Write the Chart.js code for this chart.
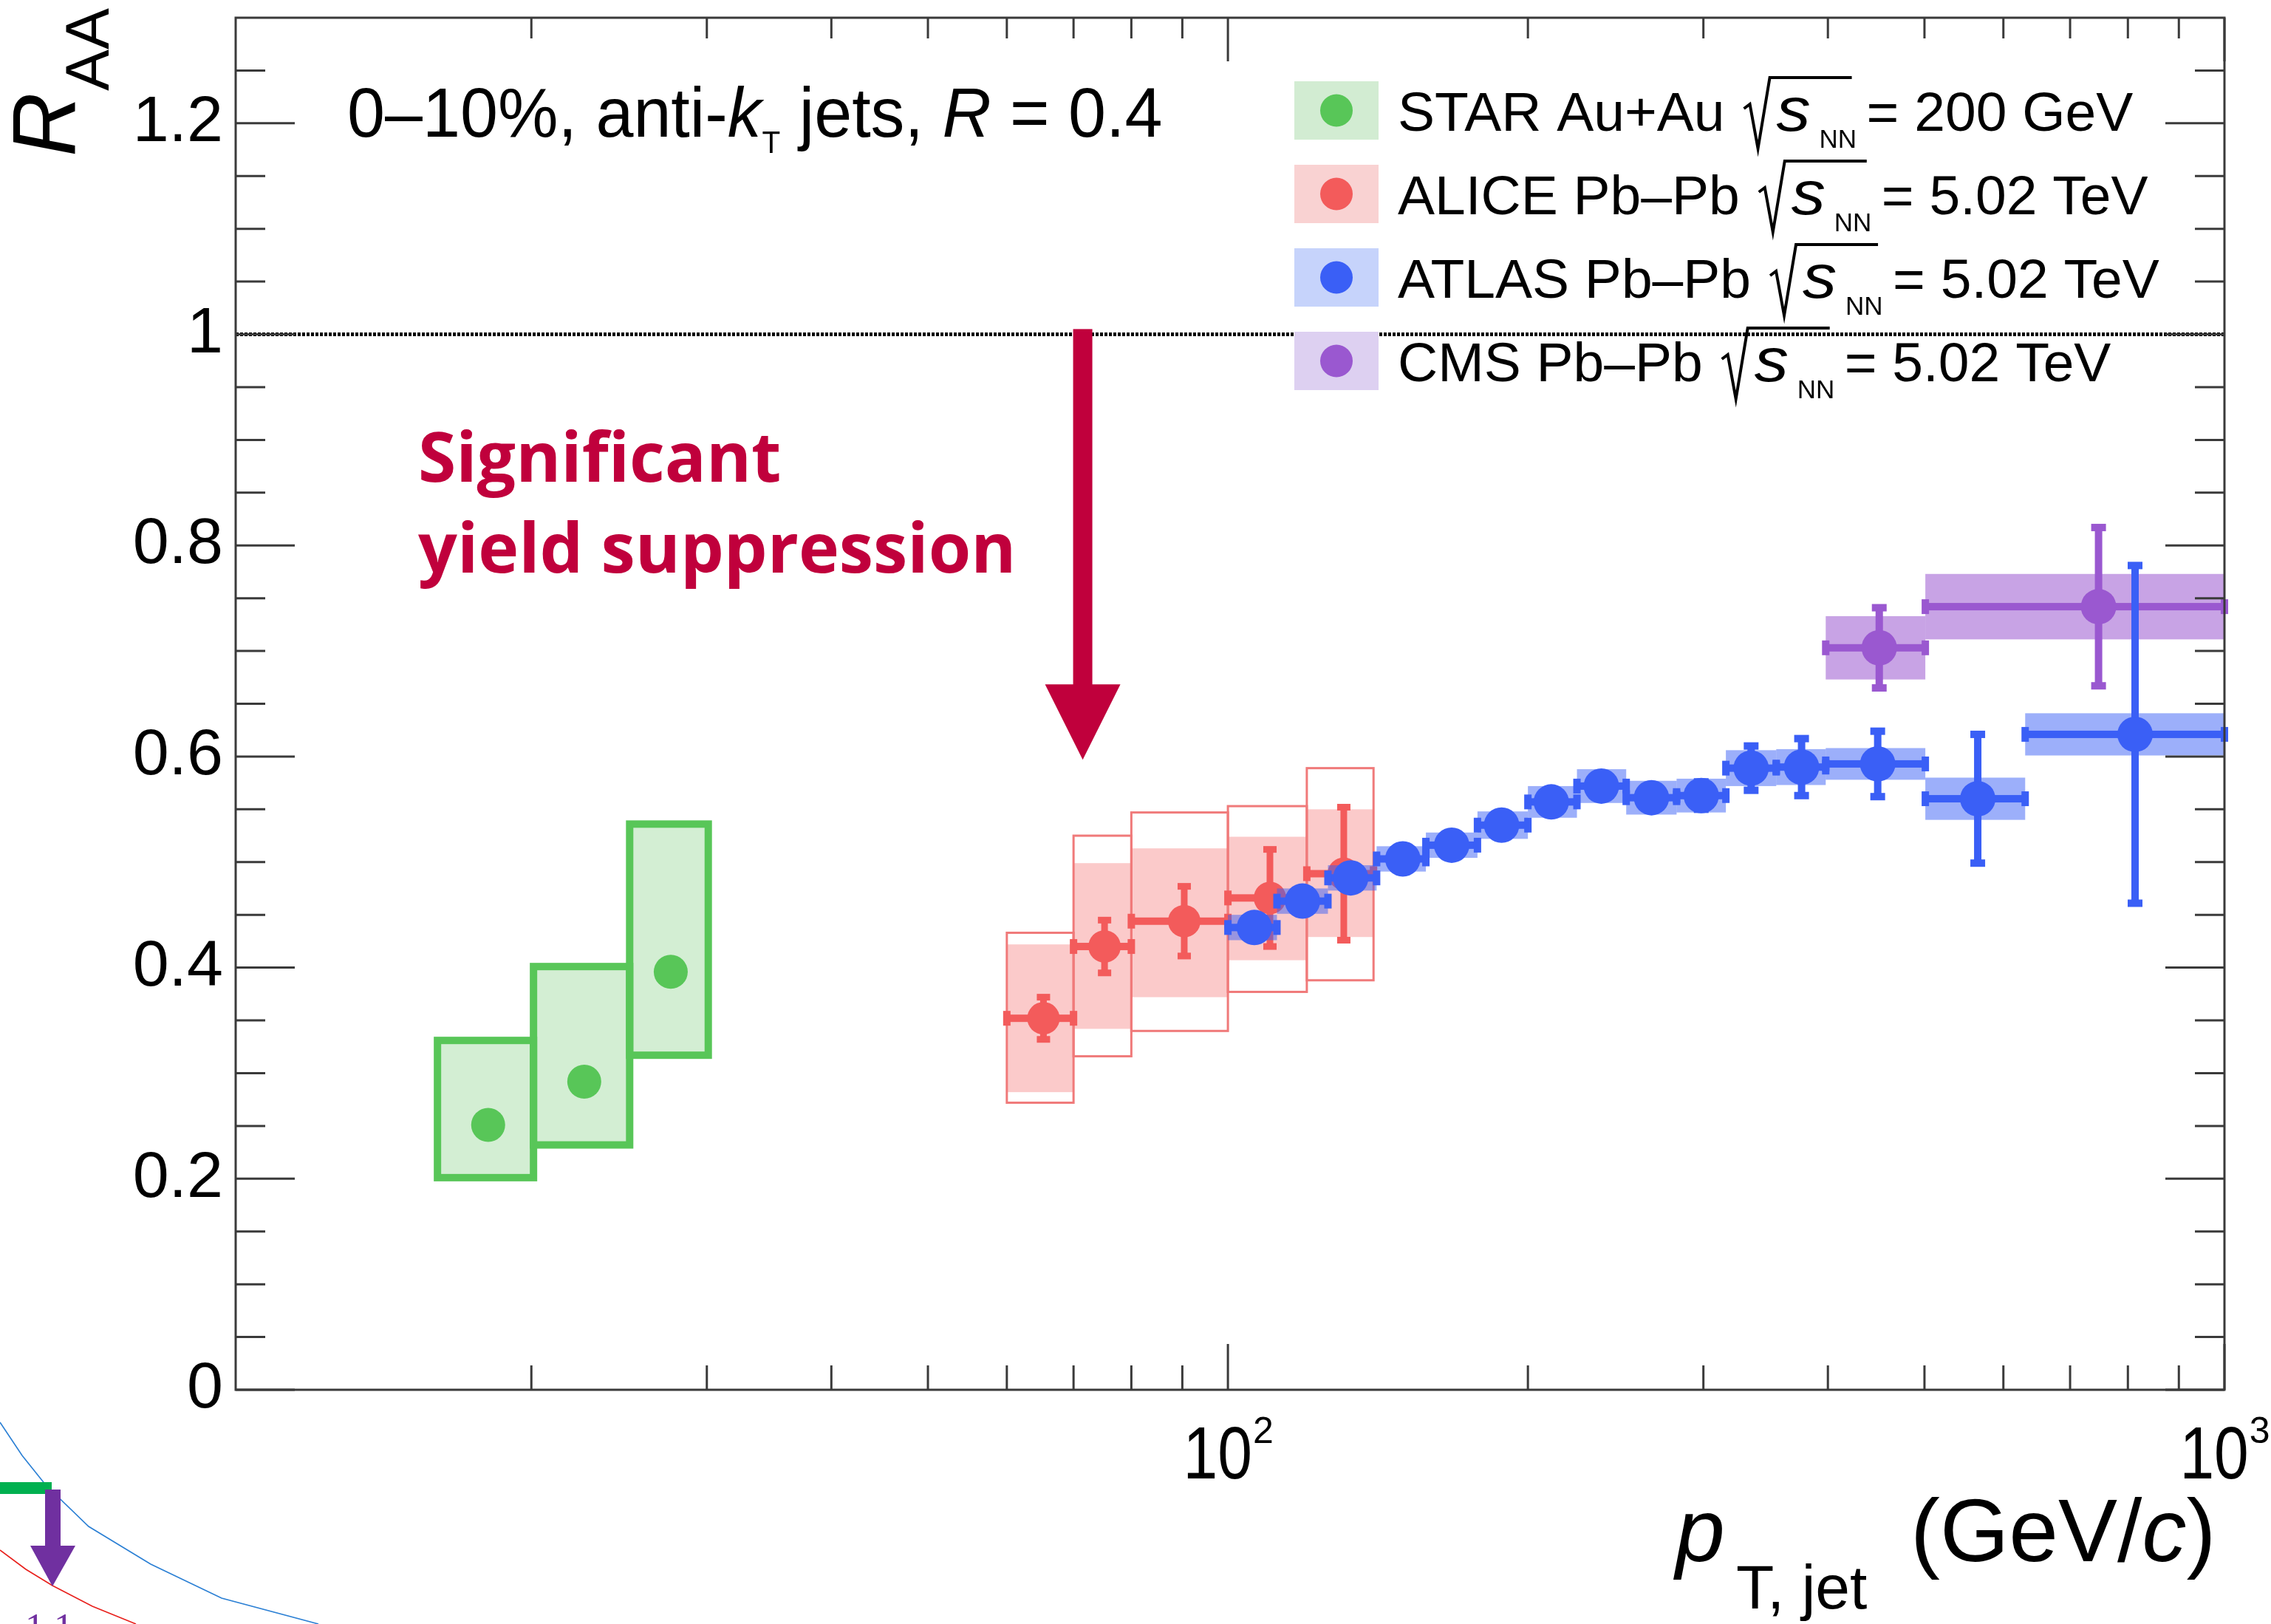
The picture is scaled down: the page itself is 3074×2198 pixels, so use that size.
<!DOCTYPE html>
<html>
<head>
<meta charset="utf-8">
<title>Jet suppression: R_AA vs jet pT</title>
<script src="https://cdn.jsdelivr.net/npm/chart.js@4/dist/chart.umd.min.js"></script>
<style>
  html, body { margin: 0; padding: 0; background: #fff; }
  #wrap { width: 3074px; height: 2198px; }
</style>
</head>
<body>
<div id="wrap"><canvas id="c" width="3074" height="2198"></canvas></div>
<script>
// ---------- data ----------
// STAR Au+Au 200 GeV
const starPt    = [18.1, 22.6, 27.6];
const starRaa   = [0.251, 0.292, 0.396];
const starBinLo = [16.1, 20.1, 25.1];
const starBinHi = [20.1, 25.1, 30.1];
const starSysLo = [0.201, 0.232, 0.317];
const starSysHi = [0.331, 0.401, 0.536];

// ALICE Pb-Pb 5.02 TeV
const alicePt      = [65.3, 75.2, 90.4, 110.2, 130.7];
const aliceRaa     = [0.352, 0.420, 0.444, 0.466, 0.489];
const aliceBinLo   = [60, 70, 80, 100, 120];
const aliceBinHi   = [70, 80, 100, 120, 140];
const aliceStat    = [0.020, 0.025, 0.033, 0.046, 0.063];
const aliceShapeLo = [0.282, 0.342, 0.372, 0.407, 0.429];
const aliceShapeHi = [0.422, 0.499, 0.513, 0.524, 0.550];
const aliceCorrLo  = [0.272, 0.316, 0.340, 0.377, 0.388];
const aliceCorrHi  = [0.433, 0.525, 0.547, 0.553, 0.589];

// ATLAS Pb-Pb 5.02 TeV
const atlasPt    = [106.3, 118.8, 132.8, 149.8, 167.7, 188.2, 211.1, 237.0, 266.1, 298.5, 335, 376.4, 448.8, 565.5, 813.4];
const atlasRaa   = [0.438, 0.463, 0.485, 0.503, 0.516, 0.535, 0.557, 0.572, 0.561, 0.563, 0.589, 0.590, 0.593, 0.560, 0.621];
const atlasBinLo = [100, 112, 126, 141, 158, 178, 200, 224, 251, 282, 316, 355, 398, 501, 631];
const atlasBinHi = [112, 126, 141, 158, 178, 200, 224, 251, 282, 316, 355, 398, 501, 631, 1000];
const atlasStat  = [0.008, 0.008, 0.008, 0.008, 0.008, 0.009, 0.009, 0.010, 0.011, 0.013, 0.021, 0.027, 0.031, 0.061, 0.160];
const atlasSys   = [0.012, 0.012, 0.012, 0.012, 0.012, 0.013, 0.015, 0.016, 0.016, 0.016, 0.017, 0.017, 0.015, 0.020, 0.020];

// CMS Pb-Pb 5.02 TeV
const cmsPt    = [450.4, 747.6];
const cmsRaa   = [0.703, 0.742];
const cmsBinLo = [398, 501];
const cmsBinHi = [501, 1000];
const cmsStat  = [0.038, 0.075];
const cmsSys   = [0.030, 0.031];

// axis ticks
const yMajorTicks = [0, 0.2, 0.4, 0.6, 0.8, 1.0, 1.2];
const yTickLabels = ['0', '0.2', '0.4', '0.6', '0.8', '1', '1.2'];
const yMinorTicks = [0.05, 0.1, 0.15, 0.25, 0.3, 0.35, 0.45, 0.5, 0.55, 0.65, 0.7, 0.75,
                     0.85, 0.9, 0.95, 1.05, 1.1, 1.15, 1.25];
const xMajorTicks = [100, 1000];
const xTickBase = ['10', '10'];
const xTickExp  = ['2', '3'];
const xMinorTicks = [20, 30, 40, 50, 60, 70, 80, 90, 200, 300, 400, 500, 600, 700, 800, 900];

// annotation arrow (pT position, RAA from -> to)
const arrowPt = 71.5, arrowFrom = 1.005, arrowTo = 0.597;

// ---------- styles ----------
const HELV = '"Liberation Sans", Arial, Helvetica, sans-serif';
const NOTE_FONT = 'bold 93px "Open Sans", "Noto Sans", sans-serif';
const C_STAR = '#58c658', C_STAR_BOX = '#d3eed3';
const C_ALICE = '#f35b5b', C_ALICE_SHAPE = 'rgba(243,91,91,0.32)', C_ALICE_CORR = '#f07a7a';
const C_ATLAS = '#3a5ff6', C_ATLAS_SYS = 'rgba(58,95,246,0.5)';
const C_CMS = '#9a58d0', C_CMS_SYS = 'rgba(154,88,208,0.55)';
const C_NOTE = '#c0003c';

Chart.defaults.font.family = HELV;

// ---------- helpers ----------
function hErr(ctx, X, Y, x0, x1, y, color, lw) {
  const a = X.getPixelForValue(x0), b = X.getPixelForValue(x1), p = Y.getPixelForValue(y);
  ctx.fillStyle = color;
  ctx.fillRect(a, p - lw / 2, b - a, lw);
  ctx.fillRect(a - lw / 2, p - lw, lw, 2 * lw);
  ctx.fillRect(b - lw / 2, p - lw, lw, 2 * lw);
}
function vErr(ctx, X, Y, x, y0, y1, color, lw) {
  const p = X.getPixelForValue(x), a = Y.getPixelForValue(y0), b = Y.getPixelForValue(y1);
  ctx.fillStyle = color;
  ctx.fillRect(p - lw / 2, b, lw, a - b);
  ctx.fillRect(p - lw, a - lw / 2, 2 * lw, lw);
  ctx.fillRect(p - lw, b - lw / 2, 2 * lw, lw);
}
function rectPx(X, Y, x0, x1, y0, y1) {
  const l = X.getPixelForValue(x0), r = X.getPixelForValue(x1);
  const t = Y.getPixelForValue(y1), b = Y.getPixelForValue(y0);
  return [l, t, r - l, b - t];
}
function line(ctx, x0, y0, x1, y1) {
  ctx.beginPath(); ctx.moveTo(x0, y0); ctx.lineTo(x1, y1); ctx.stroke();
}
// draws text with optional horizontal squeeze, returns advance
function txt(ctx, s, x, y, font, color, squeeze) {
  const k = squeeze || 1;
  ctx.save();
  ctx.font = font; ctx.fillStyle = color; ctx.textBaseline = 'alphabetic'; ctx.textAlign = 'left';
  const w = ctx.measureText(s).width * k;
  ctx.translate(x, y); ctx.scale(k, 1); ctx.fillText(s, 0, 0);
  ctx.restore();
  return w;
}
function textWidth(ctx, s, font, squeeze) {
  ctx.save(); ctx.font = font; const w = ctx.measureText(s).width * (squeeze || 1); ctx.restore(); return w;
}

// ---------- uncertainty boxes and error bars, drawn under each dataset's markers ----------
const errorPlugin = {
  id: 'errors',
  beforeDatasetDraw(chart, args) {
    const ctx = chart.ctx, X = chart.scales.x, Y = chart.scales.y;
    const name = chart.data.datasets[args.index].label;
    ctx.save();
    if (name === 'STAR') {
      ctx.lineWidth = 10; ctx.strokeStyle = C_STAR; ctx.fillStyle = C_STAR_BOX;
      starPt.forEach((_, i) => {
        ctx.fillRect(...rectPx(X, Y, starBinLo[i], starBinHi[i], starSysLo[i], starSysHi[i]));
      });
      starPt.forEach((_, i) => {
        ctx.strokeRect(...rectPx(X, Y, starBinLo[i], starBinHi[i], starSysLo[i], starSysHi[i]));
      });
    } else if (name === 'ALICE') {
      ctx.fillStyle = C_ALICE_SHAPE;
      alicePt.forEach((_, i) => {
        ctx.fillRect(...rectPx(X, Y, aliceBinLo[i], aliceBinHi[i], aliceShapeLo[i], aliceShapeHi[i]));
      });
      ctx.lineWidth = 3; ctx.strokeStyle = C_ALICE_CORR;
      alicePt.forEach((_, i) => {
        ctx.strokeRect(...rectPx(X, Y, aliceBinLo[i], aliceBinHi[i], aliceCorrLo[i], aliceCorrHi[i]));
      });
      alicePt.forEach((x, i) => {
        hErr(ctx, X, Y, aliceBinLo[i], aliceBinHi[i], aliceRaa[i], C_ALICE, 10);
        vErr(ctx, X, Y, x, aliceRaa[i] - aliceStat[i], aliceRaa[i] + aliceStat[i], C_ALICE, 9);
      });
    } else if (name === 'ATLAS') {
      ctx.fillStyle = C_ATLAS_SYS;
      atlasPt.forEach((_, i) => {
        ctx.fillRect(...rectPx(X, Y, atlasBinLo[i], atlasBinHi[i], atlasRaa[i] - atlasSys[i], atlasRaa[i] + atlasSys[i]));
      });
      atlasPt.forEach((x, i) => {
        hErr(ctx, X, Y, atlasBinLo[i], atlasBinHi[i], atlasRaa[i], C_ATLAS, 10);
        vErr(ctx, X, Y, x, atlasRaa[i] - atlasStat[i], atlasRaa[i] + atlasStat[i], C_ATLAS, 10);
      });
    } else if (name === 'CMS') {
      ctx.fillStyle = C_CMS_SYS;
      cmsPt.forEach((_, i) => {
        ctx.fillRect(...rectPx(X, Y, cmsBinLo[i], cmsBinHi[i], cmsRaa[i] - cmsSys[i], cmsRaa[i] + cmsSys[i]));
      });
      cmsPt.forEach((x, i) => {
        hErr(ctx, X, Y, cmsBinLo[i], cmsBinHi[i], cmsRaa[i], C_CMS, 10);
        vErr(ctx, X, Y, x, cmsRaa[i] - cmsStat[i], cmsRaa[i] + cmsStat[i], C_CMS, 10);
      });
    }
    ctx.restore();
  }
};

// ---------- frame, ticks, texts, legend, annotation ----------
function legendRow(ctx, b, boxFill, dotColor, label, tail) {
  ctx.fillStyle = boxFill; ctx.fillRect(1752, b - 67, 114, 79);
  ctx.fillStyle = dotColor; ctx.beginPath(); ctx.arc(1809, b - 27.5, 22, 0, 2 * Math.PI); ctx.fill();
  let x = 1892;
  x += txt(ctx, label, x, b, '75px ' + HELV, '#000') + 26;
  // radical sign over s_NN
  ctx.strokeStyle = '#000'; ctx.lineWidth = 4; ctx.lineJoin = 'miter';
  ctx.beginPath();
  ctx.moveTo(x, b - 30); ctx.lineTo(x + 8, b - 36); ctx.lineTo(x + 19, b + 24);
  ctx.lineTo(x + 35, b - 72); ctx.lineTo(x + 146, b - 72);
  ctx.stroke();
  txt(ctx, 's', x + 44, b, 'italic 84px ' + HELV, '#000', 1.1);
  txt(ctx, 'NN', x + 102, b + 23, '35px ' + HELV, '#000');
  txt(ctx, tail, x + 166, b, '75px ' + HELV, '#000');
}

const decorPlugin = {
  id: 'decor',
  beforeDraw(chart) {
    const ctx = chart.ctx;
    ctx.save(); ctx.fillStyle = '#fff'; ctx.fillRect(0, 0, chart.width, chart.height); ctx.restore();
  },
  afterDraw(chart) {
    const ctx = chart.ctx, X = chart.scales.x, Y = chart.scales.y, ca = chart.chartArea;
    ctx.save();

    // reference line at R_AA = 1
    ctx.strokeStyle = '#000'; ctx.lineWidth = 5; ctx.setLineDash([4, 2]);
    line(ctx, ca.left, Y.getPixelForValue(1), ca.right, Y.getPixelForValue(1));
    ctx.setLineDash([]);

    // frame and inward ticks on all four sides
    ctx.strokeStyle = '#3a3a3a'; ctx.lineWidth = 3;
    ctx.strokeRect(ca.left, ca.top, ca.right - ca.left, ca.bottom - ca.top);
    yMajorTicks.forEach(v => {
      const p = Y.getPixelForValue(v);
      line(ctx, ca.left, p, ca.left + 80, p); line(ctx, ca.right - 80, p, ca.right, p);
    });
    yMinorTicks.forEach(v => {
      const p = Y.getPixelForValue(v);
      line(ctx, ca.left, p, ca.left + 40, p); line(ctx, ca.right - 40, p, ca.right, p);
    });
    xMajorTicks.forEach(v => {
      const p = X.getPixelForValue(v);
      line(ctx, p, ca.bottom, p, ca.bottom - 62); line(ctx, p, ca.top, p, ca.top + 59);
    });
    xMinorTicks.forEach(v => {
      const p = X.getPixelForValue(v);
      line(ctx, p, ca.bottom, p, ca.bottom - 33); line(ctx, p, ca.top, p, ca.top + 28);
    });

    // x tick labels 10^n, placed by the x scale
    {
      const fB = '100px ' + HELV, fE = '50px ' + HELV, kB = 0.84;
      xMajorTicks.forEach((v, i) => {
        const p = X.getPixelForValue(v);
        const wB = textWidth(ctx, xTickBase[i], fB, kB), wE = textWidth(ctx, xTickExp[i], fE);
        const x0 = p - (wB + wE) / 2;
        txt(ctx, xTickBase[i], x0, 2001, fB, '#000', kB);
        txt(ctx, xTickExp[i], x0 + wB + 1, 1953, fE, '#000');
      });
    }

    // header text
    {
      const k = 0.965, b = 185, f = 95;
      let x = 470;
      x += txt(ctx, '0\u201310%, anti-', x, b, f + 'px ' + HELV, '#000', k);
      x += txt(ctx, 'k', x, b, 'italic ' + f + 'px ' + HELV, '#000', k);
      x += txt(ctx, 'T', x + 1, b + 22, '42px ' + HELV, '#000', k) + 1;
      x += txt(ctx, ' jets, ', x, b, f + 'px ' + HELV, '#000', k);
      x += txt(ctx, 'R', x, b, 'italic ' + f + 'px ' + HELV, '#000', k);
      txt(ctx, ' = 0.4', x, b, f + 'px ' + HELV, '#000', k);
    }

    // legend
    legendRow(ctx, 177, '#d2ecd2', C_STAR, 'STAR Au+Au', '= 200 GeV');
    legendRow(ctx, 290, '#f9d2d2', C_ALICE, 'ALICE Pb\u2013Pb', '= 5.02 TeV');
    legendRow(ctx, 403, '#c6d3fb', C_ATLAS, 'ATLAS Pb\u2013Pb', '= 5.02 TeV');
    legendRow(ctx, 516, '#ddd0f1', C_CMS, 'CMS Pb\u2013Pb', '= 5.02 TeV');

    // y-axis title R_AA (rotated)
    ctx.save();
    ctx.translate(102, 212); ctx.rotate(-Math.PI / 2);
    txt(ctx, 'R', 0, 0, 'italic 120px ' + HELV, '#000');
    txt(ctx, 'AA', 89, 45, '84px ' + HELV, '#000');
    ctx.restore();

    // x-axis title p_T,jet (GeV/c)
    {
      let x = 2268; const b = 2113;
      txt(ctx, 'p', x, b, 'italic 120px ' + HELV, '#000');
      txt(ctx, 'T, jet', 2350, b + 64, '84px ' + HELV, '#000');
      x = 2586;
      x += txt(ctx, '(GeV/', x, b, '120px ' + HELV, '#000');
      x += txt(ctx, 'c', x, b, 'italic 120px ' + HELV, '#000');
      txt(ctx, ')', x, b, '120px ' + HELV, '#000');
    }

    // annotation: suppression arrow and label
    {
      const px = X.getPixelForValue(arrowPt);
      const y0 = Y.getPixelForValue(arrowFrom), tip = Y.getPixelForValue(arrowTo);
      const headTop = tip - 102;
      ctx.fillStyle = C_NOTE;
      ctx.fillRect(px - 13, y0, 26, headTop - y0 + 2);
      ctx.beginPath(); ctx.moveTo(px - 51, headTop); ctx.lineTo(px + 51, headTop); ctx.lineTo(px, tip); ctx.closePath(); ctx.fill();
      txt(ctx, 'Significant', 566, 652, NOTE_FONT, C_NOTE);
      txt(ctx, 'yield suppression', 566, 775, NOTE_FONT, C_NOTE);
    }

    // slide remnants in the lower-left corner
    ctx.lineWidth = 1.6; ctx.strokeStyle = '#2a7fd4';
    ctx.beginPath();
    [[0, 1925], [30, 1970], [62, 2010], [120, 2066], [204, 2117], [300, 2163], [431, 2198]]
      .forEach((p, i) => i ? ctx.lineTo(p[0], p[1]) : ctx.moveTo(p[0], p[1]));
    ctx.stroke();
    ctx.strokeStyle = '#e8201c';
    ctx.beginPath();
    [[0, 2098], [35, 2124], [71, 2146], [125, 2174], [184, 2198]]
      .forEach((p, i) => i ? ctx.lineTo(p[0], p[1]) : ctx.moveTo(p[0], p[1]));
    ctx.stroke();
    ctx.fillStyle = '#00b050'; ctx.fillRect(0, 2006, 70, 16);
    ctx.fillStyle = '#7030a0';
    ctx.fillRect(61, 2016, 21, 78);
    ctx.beginPath(); ctx.moveTo(41, 2092); ctx.lineTo(102, 2092); ctx.lineTo(71, 2147); ctx.closePath(); ctx.fill();
    ctx.font = '52px "Liberation Serif", serif'; ctx.textBaseline = 'top'; ctx.fillText('1.1', 34, 2180);

    ctx.restore();
  }
};

// ---------- chart ----------
const pts = (xs, ys) => xs.map((x, i) => ({ x, y: ys[i] }));

new Chart(document.getElementById('c'), {
  type: 'scatter',
  data: {
    datasets: [
      { label: 'ATLAS', data: pts(atlasPt, atlasRaa), order: 0, pointRadius: 24, backgroundColor: C_ATLAS, borderWidth: 0 },
      { label: 'CMS',   data: pts(cmsPt, cmsRaa),     order: 1, pointRadius: 24, backgroundColor: C_CMS,   borderWidth: 0 },
      { label: 'ALICE', data: pts(alicePt, aliceRaa), order: 2, pointRadius: 22, backgroundColor: C_ALICE, borderWidth: 0 },
      { label: 'STAR',  data: pts(starPt, starRaa),   order: 3, pointRadius: 23, backgroundColor: C_STAR,  borderWidth: 0 }
    ]
  },
  options: {
    responsive: false,
    animation: false,
    devicePixelRatio: 1,
    layout: { padding: { top: 13, right: 63, left: 0, bottom: 0 } },
    plugins: { legend: { display: false }, tooltip: { enabled: false } },
    scales: {
      x: {
        type: 'logarithmic', min: 10.1, max: 1000,
        afterBuildTicks: s => { s.ticks = xMajorTicks.map(v => ({ value: v, major: true })); },
        afterFit: s => { s.height = 317; s.paddingLeft = 0; s.paddingRight = 0; },
        ticks: { display: false },
        grid: { display: false, drawTicks: false },
        border: { display: false }
      },
      y: {
        type: 'linear', min: 0, max: 1.3,
        afterBuildTicks: s => { s.ticks = yMajorTicks.map(v => ({ value: v })); },
        afterFit: s => { s.width = 319; s.paddingTop = 0; s.paddingBottom = 0; },
        ticks: { callback: (v, i) => yTickLabels[i], font: { size: 88 }, color: '#000', padding: 17 },
        grid: { display: false, drawTicks: false },
        border: { display: false }
      }
    }
  },
  plugins: [errorPlugin, decorPlugin]
});
</script>
</body>
</html>
